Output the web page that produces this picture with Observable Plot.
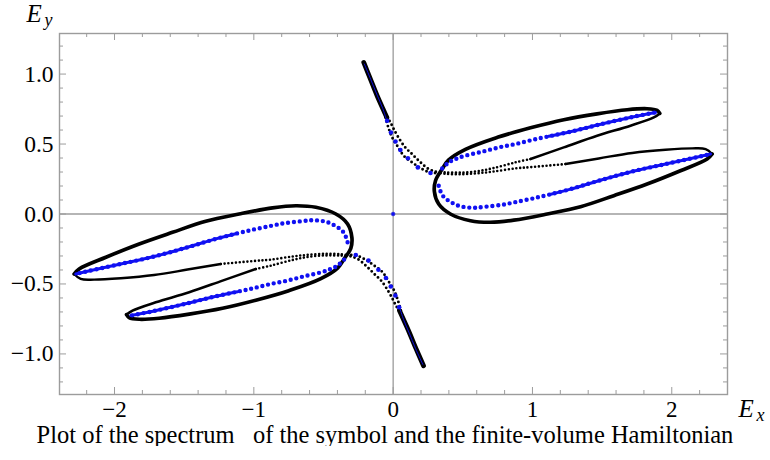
<!DOCTYPE html>
<html><head><meta charset="utf-8">
<script src="https://cdn.jsdelivr.net/npm/d3@7"></script>
<script src="https://cdn.jsdelivr.net/npm/@observablehq/plot@0.6"></script>
<style>
body{margin:0;background:#fff;}
#wrap{width:770px;height:424px;}
#cap{width:770px;text-align:center;font-family:"Liberation Serif","Times New Roman",serif;font-size:24.5px;line-height:21.5px;white-space:pre;color:#000;}
</style></head><body><div id="wrap"></div><div id="cap"></div>
<script>
// ---- tick values and labels ----
const xMajor = [-2, -1, 0, 1, 2];
const xTickLabels = ["\u22122", "\u22121", "0", "1", "2"];
const xMinor = [-2.2, -1.8, -1.6, -1.4, -1.2, -0.8, -0.6, -0.4, -0.2, 0.2, 0.4, 0.6, 0.8, 1.2, 1.4, 1.6, 1.8, 2.2];
const yMajor = [-1, -0.5, 0, 0.5, 1];
const yTickLabels = ["\u22121.0", "\u22120.5", "0.0", "0.5", "1.0"];
const yMinor = [-1.2, -1.1, -0.9, -0.8, -0.7, -0.6, -0.4, -0.3, -0.2, -0.1, 0.1, 0.2, 0.3, 0.4, 0.6, 0.7, 0.8, 0.9, 1.1, 1.2];
const captionText = "Plot of the spectrum   of the symbol and the finite-volume Hamiltonian";

// ---- symbol spectrum (black), right half ----
const rightOuter = [[2.290,0.429],[2.254,0.393],[2.062,0.309],[1.823,0.214],[1.584,0.131],[1.345,0.052],[1.106,0.000],[0.866,-0.044],[0.698,-0.059],[0.555,-0.048],[0.411,0.000],[0.327,0.071],[0.296,0.160],[0.304,0.238],[0.352,0.321],[0.397,0.385],[0.519,0.462],[0.749,0.548],[0.986,0.616],[1.225,0.674],[1.464,0.716],[1.680,0.745],[1.823,0.752],[1.895,0.740],[1.914,0.719]];
const rightUpperInner = [[1.914,0.719],[1.871,0.690],[1.704,0.631],[1.464,0.559],[1.225,0.476],[0.986,0.393]];
const rightLowerInner = [[2.290,0.429],[2.243,0.464],[2.146,0.469],[1.955,0.459],[1.716,0.436],[1.476,0.397],[1.237,0.357]];
const rightDotA = [[0.986,0.393],[0.878,0.369],[0.711,0.326],[0.600,0.305],[0.480,0.296],[0.380,0.297],[0.330,0.300]];
const rightDotB = [[1.237,0.357],[1.000,0.336],[0.878,0.326],[0.711,0.302],[0.600,0.291],[0.480,0.284],[0.380,0.287],[0.330,0.292]];
const topBand = [[-0.211,1.083],[-0.163,0.964],[-0.115,0.845],[-0.067,0.738],[-0.045,0.690]];
const topTrackOuter = [[-0.045,0.690],[-0.020,0.655],[0.004,0.607],[0.035,0.552],[0.085,0.478],[0.136,0.428],[0.196,0.369],[0.256,0.321],[0.304,0.302],[0.340,0.298]];
const topTrackInner = [[-0.055,0.690],[-0.035,0.620],[-0.007,0.547],[0.029,0.488],[0.076,0.416],[0.136,0.369],[0.208,0.321],[0.268,0.296],[0.320,0.292]];

// ---- symbol spectrum (black), left half ----
const leftOuter = [[-2.290,-0.429],[-2.254,-0.393],[-2.062,-0.309],[-1.823,-0.214],[-1.584,-0.131],[-1.345,-0.052],[-1.106,0.000],[-0.866,0.044],[-0.698,0.059],[-0.555,0.048],[-0.411,0.000],[-0.327,-0.071],[-0.296,-0.170],[-0.304,-0.245],[-0.352,-0.321],[-0.397,-0.385],[-0.519,-0.462],[-0.749,-0.548],[-0.986,-0.616],[-1.225,-0.674],[-1.464,-0.716],[-1.680,-0.745],[-1.823,-0.752],[-1.895,-0.740],[-1.914,-0.719]];
const leftLowerInner = [[-1.914,-0.719],[-1.871,-0.690],[-1.704,-0.631],[-1.464,-0.559],[-1.225,-0.476],[-0.986,-0.393]];
const leftUpperInner = [[-2.290,-0.429],[-2.243,-0.464],[-2.146,-0.469],[-1.955,-0.459],[-1.716,-0.436],[-1.476,-0.397],[-1.237,-0.357]];
const leftDotA = [[-0.986,-0.393],[-0.878,-0.369],[-0.711,-0.326],[-0.600,-0.305],[-0.480,-0.296],[-0.380,-0.297],[-0.330,-0.300]];
const leftDotB = [[-1.237,-0.357],[-1.000,-0.336],[-0.878,-0.326],[-0.711,-0.302],[-0.600,-0.291],[-0.480,-0.284],[-0.380,-0.287],[-0.330,-0.292]];
const bottomBand = [[0.218,-1.085],[0.165,-0.964],[0.115,-0.845],[0.067,-0.738],[0.045,-0.690]];
const bottomTrackOuter = [[0.045,-0.690],[0.020,-0.655],[-0.004,-0.607],[-0.035,-0.552],[-0.085,-0.478],[-0.136,-0.428],[-0.196,-0.369],[-0.256,-0.321],[-0.304,-0.302],[-0.340,-0.298]];
const bottomTrackInner = [[0.055,-0.690],[0.035,-0.620],[0.007,-0.547],[-0.029,-0.488],[-0.076,-0.416],[-0.136,-0.369],[-0.208,-0.321],[-0.268,-0.296],[-0.320,-0.292]];

// ---- finite-volume Hamiltonian eigenvalues (blue) ----
const blueUpperR = [[0.352,0.326],[0.400,0.369],[0.448,0.393],[0.519,0.417],[0.639,0.445],[0.759,0.476],[0.878,0.500],[0.998,0.529],[1.117,0.555],[1.273,0.588],[1.476,0.638],[1.716,0.693],[1.883,0.726]];
const blueLowerR = [[0.327,0.202],[0.352,0.136],[0.388,0.102],[0.431,0.076],[0.471,0.059],[0.531,0.047],[0.591,0.045],[0.663,0.052],[0.782,0.066],[0.878,0.085],[0.998,0.110],[1.117,0.138],[1.273,0.178],[1.476,0.238],[1.716,0.304],[1.955,0.357],[2.194,0.409],[2.278,0.429]];
const blueUpperL = [[-0.327,-0.202],[-0.352,-0.136],[-0.388,-0.102],[-0.431,-0.076],[-0.471,-0.059],[-0.531,-0.047],[-0.591,-0.045],[-0.663,-0.052],[-0.782,-0.066],[-0.878,-0.085],[-0.998,-0.110],[-1.117,-0.138],[-1.273,-0.178],[-1.476,-0.238],[-1.716,-0.304],[-1.955,-0.357],[-2.194,-0.409],[-2.278,-0.429]];
const blueLowerL = [[-0.352,-0.326],[-0.400,-0.369],[-0.448,-0.393],[-0.519,-0.417],[-0.639,-0.445],[-0.759,-0.476],[-0.878,-0.500],[-0.998,-0.529],[-1.117,-0.555],[-1.273,-0.588],[-1.476,-0.638],[-1.716,-0.693],[-1.883,-0.726]];
const blueTopBand = [[-0.207,1.072],[-0.160,0.960],[-0.115,0.850],[-0.075,0.755],[-0.050,0.680]];
const blueBottomBand = [[0.213,-1.075],[0.160,-0.960],[0.115,-0.850],[0.075,-0.755],[0.050,-0.680]];
const blueTopDots = [[-0.043,0.666],[-0.016,0.583],[0.017,0.518],[0.052,0.457],[0.106,0.398],[0.177,0.333],[0.268,0.293]];
const blueBottomDots = [[0.043,-0.666],[0.016,-0.583],[-0.017,-0.518],[-0.052,-0.457],[-0.106,-0.398],[-0.177,-0.333],[-0.268,-0.293]];
const blueOrigin = [[0, 0]];

// ---- layout ----
const X0 = -2.395, X1 = 2.40, Y0 = -1.29, Y1 = 1.29;
const W = 770, H = 424, mT = 33, mB = 30, mL = 59, mR = 43;
const kx = (W - mL - mR) / (X1 - X0), ky = (H - mT - mB) / (Y1 - Y0);
const majY = 7 / ky, minY = 4 / ky, majX = 7 / kx, minX = 4 / kx;
const gray = "#9c9c9c";
const BLUE = "#1010f2";
const SERIF = "'Liberation Serif','Times New Roman',serif";
const P = d => d[0], Q = d => d[1];

const solid = (data, w, color = "black") => Plot.line(data, {x: P, y: Q, stroke: color, strokeWidth: w, curve: "catmull-rom", strokeLinecap: "round", strokeLinejoin: "round"});
const dotted = (data, w, gap, color = "black") => Plot.line(data, {x: P, y: Q, stroke: color, strokeWidth: w, curve: "catmull-rom", strokeLinecap: "round", strokeDasharray: `0,${gap}`});
const dense = data => data.filter(d => Math.abs(d[0]) >= 1.1);

const chart = Plot.plot({
  width: W, height: H,
  marginTop: mT, marginBottom: mB, marginLeft: mL, marginRight: mR,
  x: {domain: [X0, X1], axis: null},
  y: {domain: [Y0, Y1], axis: null},
  style: {fontFamily: SERIF, background: "white", color: "black"},
  marks: [
    Plot.ruleX([0], {stroke: gray, strokeWidth: 1.3}),
    Plot.ruleY([0], {stroke: gray, strokeWidth: 1.3}),
    Plot.frame({stroke: gray, strokeWidth: 1.4}),
    // ticks (inward, all four sides)
    Plot.ruleX(xMajor, {x: d => d, y1: Y0, y2: Y0 + majY, stroke: gray}),
    Plot.ruleX(xMajor, {x: d => d, y1: Y1 - majY, y2: Y1, stroke: gray}),
    Plot.ruleX(xMinor, {x: d => d, y1: Y0, y2: Y0 + minY, stroke: gray}),
    Plot.ruleX(xMinor, {x: d => d, y1: Y1 - minY, y2: Y1, stroke: gray}),
    Plot.ruleY(yMajor, {y: d => d, x1: X0, x2: X0 + majX, stroke: gray}),
    Plot.ruleY(yMajor, {y: d => d, x1: X1 - majX, x2: X1, stroke: gray}),
    Plot.ruleY(yMinor, {y: d => d, x1: X0, x2: X0 + minX, stroke: gray}),
    Plot.ruleY(yMinor, {y: d => d, x1: X1 - minX, x2: X1, stroke: gray}),
    // tick labels
    Plot.text(xMajor, {x: d => d, text: (d, i) => xTickLabels[i], frameAnchor: "bottom", lineAnchor: "top", dy: 6, fontSize: 23, fill: "black"}),
    Plot.text(yMajor, {y: d => d, text: (d, i) => yTickLabels[i], frameAnchor: "left", textAnchor: "end", dx: -6, fontSize: 23.5, fill: "black"}),
    // axis labels
    Plot.text(["E"], {text: d => d, frameAnchor: "top-left", textAnchor: "start", lineAnchor: "top", dx: -33, dy: -29, fontSize: 25, fontStyle: "italic", fill: "black"}),
    Plot.text(["y"], {text: d => d, frameAnchor: "top-left", textAnchor: "start", lineAnchor: "top", dx: -15, dy: -20, fontSize: 18, fontStyle: "italic", fill: "black"}),
    Plot.text(["E"], {text: d => d, frameAnchor: "bottom-right", textAnchor: "start", lineAnchor: "top", dx: 11, dy: 5, fontSize: 25, fontStyle: "italic", fill: "black"}),
    Plot.text(["x"], {text: d => d, frameAnchor: "bottom-right", textAnchor: "start", lineAnchor: "top", dx: 29, dy: 14, fontSize: 18, fontStyle: "italic", fill: "black"}),
    // symbol spectrum
    solid(rightOuter, 3.7), solid(leftOuter, 3.7),
    solid(rightUpperInner, 2.6), solid(leftLowerInner, 2.6),
    solid(rightLowerInner, 2.4), solid(leftUpperInner, 2.4),
    dotted(rightDotA, 2.6, 3.8), dotted(rightDotB, 2.6, 3.8),
    dotted(leftDotA, 2.6, 3.8), dotted(leftDotB, 2.6, 3.8),
    solid(topBand, 4.8), solid(bottomBand, 4.8),
    dotted(topTrackOuter, 2.9, 4.4), dotted(topTrackInner, 2.9, 4.4),
    dotted(bottomTrackOuter, 2.9, 4.4), dotted(bottomTrackInner, 2.9, 4.4),
    // finite-volume Hamiltonian
    dotted(blueUpperR, 4.4, 5.8, BLUE), dotted(blueLowerR, 4.4, 5.8, BLUE),
    dotted(blueUpperL, 4.4, 5.8, BLUE), dotted(blueLowerL, 4.4, 5.8, BLUE),
    solid(dense(blueUpperR), 3.0, BLUE), solid(dense(blueLowerR), 3.0, BLUE),
    solid(dense(blueUpperL), 3.0, BLUE), solid(dense(blueLowerL), 3.0, BLUE),
    solid(blueTopBand, 0.9, BLUE), solid(blueBottomBand, 0.9, BLUE),
    Plot.dot(blueTopDots, {x: P, y: Q, r: 2.3, fill: BLUE}),
    Plot.dot(blueBottomDots, {x: P, y: Q, r: 2.3, fill: BLUE}),
    Plot.dot(blueOrigin, {x: P, y: Q, r: 1.9, fill: BLUE, stroke: "#3a3ad0", strokeWidth: 0.6})
  ]
});
document.getElementById("wrap").appendChild(chart);
document.getElementById("cap").textContent = captionText;
</script></body></html>
